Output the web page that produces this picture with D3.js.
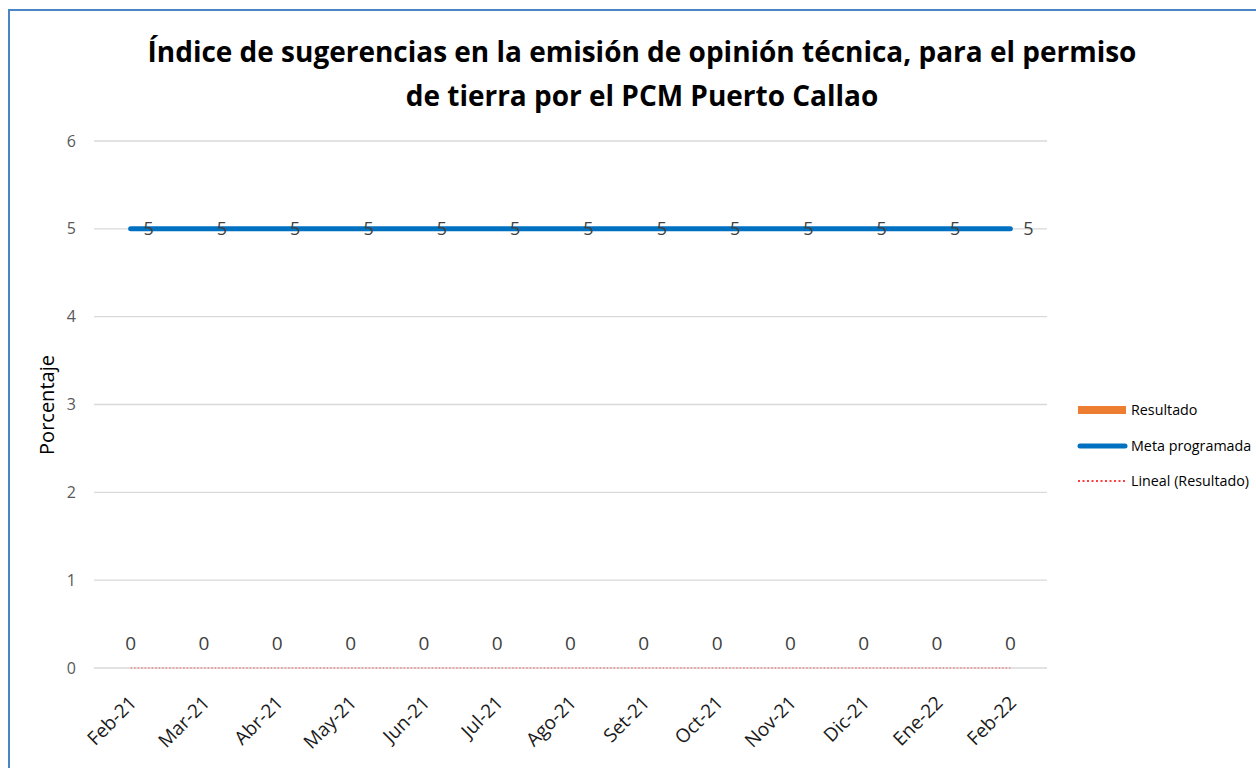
<!DOCTYPE html>
<html><head><meta charset="utf-8">
<script src="https://cdn.jsdelivr.net/npm/d3@7"></script>
<style>body{margin:0;background:#fff}svg{display:block}text{font-family:"Open Sans","Noto Sans",sans-serif}</style>
</head><body>
<svg id="c" width="1256" height="768"></svg>
<script>
const categories = ["Feb-21","Mar-21","Abr-21","May-21","Jun-21","Jul-21","Ago-21","Set-21","Oct-21","Nov-21","Dic-21","Ene-22","Feb-22"];
const resultado = [0,0,0,0,0,0,0,0,0,0,0,0,0];
const metaProgramada = [5,5,5,5,5,5,5,5,5,5,5,5,5];
const yTicks = [0,1,2,3,4,5,6];
const titleLines = ["Índice de sugerencias en la emisión de opinión técnica, para el permiso","de tierra por el PCM Puerto Callao"];
const legendItems = ["Resultado","Meta programada","Lineal (Resultado)"];

const svg = d3.select("#c");
svg.append("rect").attr("x",9).attr("y",10).attr("width",1260).attr("height",780)
  .attr("fill","#fff").attr("stroke","#4A86C6").attr("stroke-width",2);

const m = {l:94, r:1047, t:141, b:668};
const x = d3.scaleBand().domain(categories).range([m.l, m.r]);
const y = d3.scaleLinear().domain([0,6]).range([m.b, m.t]);

// gridlines
svg.append("g").selectAll("line").data(yTicks).join("line")
  .attr("x1",m.l).attr("x2",m.r).attr("y1",d=>y(d)).attr("y2",d=>y(d))
  .attr("stroke","#D9D9D9").attr("stroke-width",1.3);

// y axis
const ya = svg.append("g").attr("transform",`translate(${m.l},0)`)
  .call(d3.axisLeft(y).tickValues(yTicks).tickSize(0).tickPadding(18).tickFormat(d3.format("d")));
ya.select(".domain").remove();
ya.selectAll("text").attr("fill","#595959").attr("font-size",16);

// x axis labels
const xa = svg.append("g").attr("transform",`translate(0,${m.b})`)
  .call(d3.axisBottom(x).tickSize(0).tickPadding(0));
xa.select(".domain").remove();
xa.selectAll("text").attr("fill","#1a1a1a").attr("font-size",19)
  .attr("text-anchor","end").attr("dy","0")
  .attr("transform","translate(7,36) rotate(-45)");

const cx = d => x(d) + x.bandwidth()/2;

// Resultado bars (height 0)
svg.append("g").selectAll("rect").data(resultado).join("rect")
  .attr("x",(d,i)=>cx(categories[i])-15).attr("width",30)
  .attr("y",d=>y(d)).attr("height",d=>y(0)-y(d)).attr("fill","#ED7D31");

// trend line (linear fit of resultado)
const n = resultado.length;
const xs = d3.range(n);
const mx = d3.mean(xs), my = d3.mean(resultado);
const sxx = d3.sum(xs, v=>(v-mx)*(v-mx));
const slope = sxx ? d3.sum(xs,(v,i)=>(v-mx)*(resultado[i]-my))/sxx : 0;
const icpt = my - slope*mx;
svg.append("line")
  .attr("x1",cx(categories[0])).attr("x2",cx(categories[n-1]))
  .attr("y1",y(icpt)).attr("y2",y(icpt+slope*(n-1)))
  .attr("stroke","#FF0000").attr("stroke-width",1.2).attr("stroke-dasharray","1.5,2").attr("opacity",0.6);

// meta line
const line = d3.line().x((d,i)=>cx(categories[i])).y(d=>y(d));
svg.append("path").datum(metaProgramada).attr("d",line)
  .attr("fill","none").attr("stroke","#0070C0").attr("stroke-width",5).attr("stroke-linecap","round");

// labels
svg.append("g").selectAll("text").data(metaProgramada).join("text")
  .attr("x",(d,i)=>cx(categories[i])+18).attr("y",d=>y(d)).attr("dy","0.36em")
  .attr("text-anchor","middle").attr("font-size",18).attr("fill","#404040").text(d=>d);
svg.append("g").selectAll("text").data(resultado).join("text")
  .attr("x",(d,i)=>cx(categories[i])).attr("y",d=>y(d)-25).attr("dy","0.36em")
  .attr("text-anchor","middle").attr("font-size",19).attr("fill","#404040").text(d=>d);

// axis title
svg.append("text").attr("transform","translate(54,405) rotate(-90)")
  .attr("text-anchor","middle").attr("font-size",20).attr("fill","#000").text("Porcentaje");

// title
const tw = 989;
const tys = [62, 106];
const tEls = titleLines.map((t,i)=>svg.append("text").attr("x",642).attr("y",tys[i]).attr("text-anchor","middle")
    .attr("font-weight","bold").attr("font-size",30).attr("fill","#000").text(t));
const fs0 = 30*tw/tEls[0].node().getComputedTextLength();
tEls.forEach(el=>el.attr("font-size",fs0));

// legend
const lg = svg.append("g");
const ly = [410, 446, 481];
lg.append("rect").attr("x",1078).attr("y",ly[0]-4).attr("width",48).attr("height",8).attr("fill","#ED7D31");
lg.append("line").attr("x1",1080).attr("x2",1125).attr("y1",ly[1]).attr("y2",ly[1])
  .attr("stroke","#0070C0").attr("stroke-width",5).attr("stroke-linecap","round");
lg.append("line").attr("x1",1078).attr("x2",1126).attr("y1",ly[2]).attr("y2",ly[2])
  .attr("stroke","#FF0000").attr("stroke-width",1.5).attr("stroke-dasharray","2,2.5");
lg.selectAll("text").data(legendItems).join("text")
  .attr("x",1131).attr("y",(d,i)=>ly[i]).attr("dy","0.35em")
  .attr("font-size",14.3).attr("fill","#000").text(d=>d);
</script>
</body></html>
